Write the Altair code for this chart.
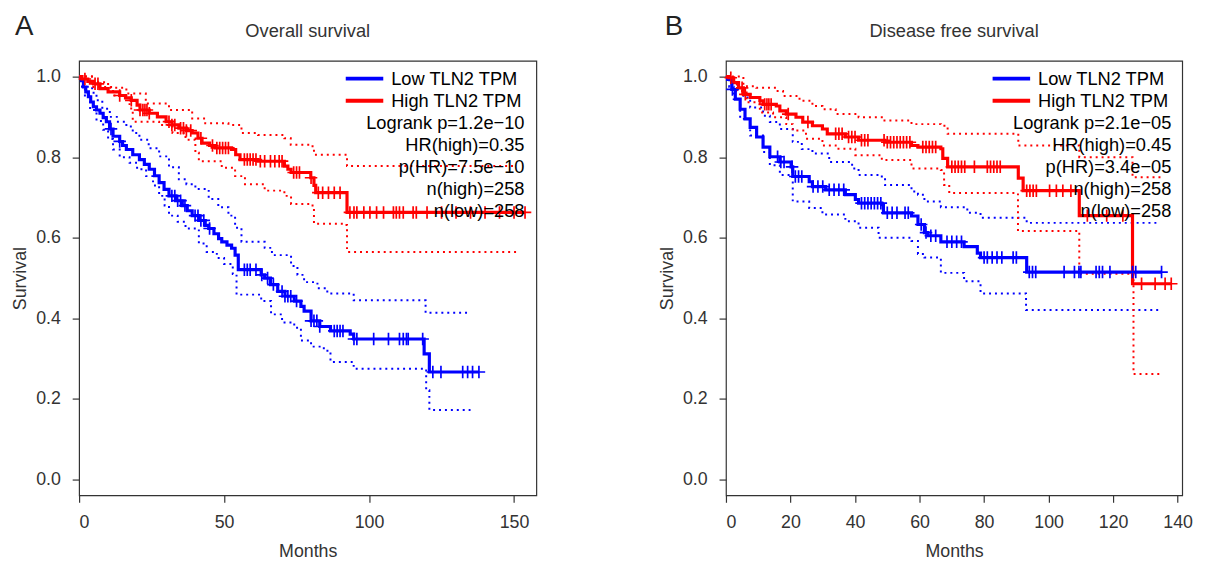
import altair as alt
import pandas as pd

# ---------------- data ----------------
# Panel A: Overall survival
A_high_t = [0, 1, 3, 5, 7.2, 10, 14, 16, 18, 20, 21, 24.2, 27, 30, 32, 34.4, 37, 39, 41, 42.4,
            45, 47, 52.6, 54, 55.5, 61.7, 70.8, 72, 73.1, 79.9, 81, 81.6, 92.4, 153.8]
A_high_s = [1.0, 0.994, 0.988, 0.982, 0.97, 0.962, 0.953, 0.947, 0.941, 0.929, 0.917, 0.909, 0.9, 0.888,
            0.88, 0.872, 0.866, 0.86, 0.847, 0.835, 0.829, 0.823, 0.819, 0.806, 0.794, 0.79, 0.778, 0.77,
            0.762, 0.749, 0.73, 0.712, 0.663, 0.663]
A_high_up_t = [0, 4.9, 10, 16.3, 23, 31, 39, 43.5, 51.5, 56, 61.7, 70.8, 73, 80, 81, 92.4, 151]
A_high_up_s = [1.0, 0.986, 0.972, 0.958, 0.933, 0.917, 0.896, 0.884, 0.88, 0.86, 0.855, 0.847, 0.831,
               0.827, 0.806, 0.778, 0.778]
A_high_lo_t = [0, 4.9, 11.7, 17.4, 18.5, 27.6, 32.2, 36.7, 40.1, 41.3, 49.2, 53.8, 57.2, 64, 70.8,
               73.1, 79.9, 81, 91.3, 92.4, 151.4]
A_high_lo_s = [1.0, 0.974, 0.953, 0.921, 0.888, 0.88, 0.86, 0.843, 0.811, 0.79, 0.774, 0.753, 0.733,
               0.717, 0.704, 0.684, 0.68, 0.635, 0.632, 0.565, 0.565]
A_low_t = [0, 0.8, 1.5, 2.3, 3.2, 4, 4.9, 6, 7.2, 8.3, 9.4, 10.5, 11.7, 14, 15, 16.3, 18.5, 20.8, 22.5,
           24.2, 26, 27.6, 29.3, 31, 33.3, 35.6, 37.3, 39, 41.3, 43.5, 44.7, 46.5, 48.1, 49.2, 51, 52.6,
           53.8, 54.9, 62.8, 64, 66, 68.5, 71, 74.2, 76.5, 77.6, 80, 83, 86.7, 93.5, 94.7, 119, 120.8, 137.9]
A_low_s = [1.0, 0.99, 0.974, 0.962, 0.95, 0.937, 0.925, 0.917, 0.909, 0.898, 0.888, 0.87, 0.852, 0.839,
           0.829, 0.819, 0.806, 0.794, 0.782, 0.77, 0.754, 0.737, 0.72, 0.704, 0.692, 0.68, 0.667, 0.655,
           0.643, 0.631, 0.623, 0.61, 0.598, 0.59, 0.582, 0.574, 0.557, 0.521, 0.508, 0.5, 0.484, 0.467,
           0.455, 0.443, 0.43, 0.418, 0.394, 0.38, 0.369, 0.361, 0.349, 0.312, 0.267, 0.267]
A_low_up_t = [0, 1.5, 3, 4.5, 6, 8, 10.6, 13, 16.3, 18.5, 20.8, 24, 27.6, 31, 34.4, 37, 40.1, 44.7, 48,
              51.5, 53.8, 56, 64, 66.5, 73.1, 75.3, 77.6, 82.2, 85.6, 94.7, 119.5, 135]
A_low_up_s = [1.0, 0.99, 0.975, 0.96, 0.941, 0.92, 0.9, 0.888, 0.876, 0.86, 0.843, 0.822, 0.802, 0.775,
              0.745, 0.733, 0.721, 0.696, 0.676, 0.655, 0.625, 0.59, 0.575, 0.557, 0.53, 0.508, 0.49,
              0.475, 0.462, 0.445, 0.414, 0.414]
A_low_lo_t = [0, 1, 2, 3.8, 6, 8.3, 10, 11.7, 14, 17.4, 20, 23.1, 25.5, 27.6, 29.5, 31, 34, 36.7, 41.3,
              44, 47.5, 50, 53, 54.3, 62.8, 66.2, 70, 74.2, 76.5, 80, 84.4, 86.7, 94.7, 119.7, 120.8, 135]
A_low_lo_s = [1.0, 0.975, 0.95, 0.917, 0.89, 0.868, 0.845, 0.819, 0.8, 0.786, 0.77, 0.753, 0.73, 0.704,
              0.68, 0.655, 0.64, 0.623, 0.586, 0.565, 0.55, 0.535, 0.51, 0.459, 0.443, 0.41, 0.39, 0.377,
              0.345, 0.33, 0.32, 0.292, 0.275, 0.222, 0.173, 0.173]
A_high_cens = [2, 5.5, 6.5, 14, 18, 21, 22, 22.7, 23.4, 24.2, 31, 32, 33, 35, 36, 37, 38.5, 42, 46, 47.5,
               48.5, 49.5, 50.5, 51.5, 57, 58, 59, 60, 61, 62.5, 64, 66, 67.5, 69, 70, 74, 75, 76, 80,
               82.5, 84, 86, 88, 90, 93.4, 94.8, 95.8, 98.2, 100.3, 102.6, 105, 108.4, 109.4, 110.5,
               111.8, 115.2, 116.3, 120, 125, 130, 135, 140, 145, 150, 153.8]
A_low_cens = [11, 14, 32, 33, 34, 35, 36.5, 40, 41, 42, 43, 45, 57, 58, 59, 61, 63, 65, 67, 70, 71, 72,
              73, 75, 80, 81, 82, 83, 88, 89, 90, 91, 94.8, 95.8, 101.6, 106.7, 110.5, 111.8, 112.9,
              113.5, 118.5, 122, 124.8, 132.3, 134, 135.7, 137.9]
A_stats = ["Logrank p=1.2e\u221210", "HR(high)=0.35", "p(HR)=7.5e\u221210", "n(high)=258", "n(low)=258"]

# Panel B: Disease free survival
B_high_t = [0, 0.8, 2.4, 3.9, 5.4, 7.5, 10.5, 11.5, 15.6, 16.7, 18.7, 21.7, 23.8, 26.8, 29.9, 31.4, 37,
            41.1, 49.3, 57.5, 59.5, 66.6, 67.2, 68.7, 90.6, 92.1, 109.5, 126, 138]
B_high_s = [1.0, 0.997, 0.985, 0.972, 0.956, 0.948, 0.94, 0.931, 0.927, 0.915, 0.907, 0.899, 0.887,
            0.878, 0.87, 0.858, 0.85, 0.842, 0.837, 0.829, 0.825, 0.821, 0.797, 0.776, 0.748, 0.717,
            0.655, 0.486, 0.486]
B_high_up_t = [0, 5.4, 9.4, 15.6, 17.7, 22.8, 26.8, 29.9, 34, 41.1, 48.3, 57.5, 66.6, 68.7, 90.6, 109.5,
               126, 135]
B_high_up_s = [1.0, 0.976, 0.972, 0.964, 0.952, 0.94, 0.927, 0.919, 0.907, 0.899, 0.891, 0.882, 0.878,
               0.858, 0.829, 0.80, 0.75, 0.75]
B_high_lo_t = [0, 1.5, 3.4, 6.4, 10.5, 14.6, 18.7, 20.7, 24.8, 29.9, 34, 40.1, 48.3, 57.5, 66.6, 67.6,
               69.2, 90.5, 109.5, 126.3, 135]
B_high_lo_s = [1.0, 0.985, 0.964, 0.936, 0.911, 0.899, 0.882, 0.866, 0.846, 0.829, 0.821, 0.805, 0.793,
               0.772, 0.768, 0.731, 0.711, 0.617, 0.511, 0.262, 0.262]
B_low_t = [0, 0.5, 1.8, 2.9, 4.4, 5.9, 7.5, 9.5, 11.5, 13.6, 16.7, 20.2, 20.7, 25.8, 26.8, 30.9, 37,
           40.1, 41.1, 48.3, 48.8, 57.5, 59.5, 61.5, 62.6, 66.6, 73.8, 77.9, 78.9, 93.2, 135]
B_low_s = [1.0, 0.993, 0.968, 0.944, 0.919, 0.895, 0.874, 0.85, 0.825, 0.801, 0.788, 0.776, 0.752,
           0.739, 0.727, 0.719, 0.707, 0.695, 0.686, 0.682, 0.662, 0.654, 0.633, 0.613, 0.605, 0.59,
           0.578, 0.562, 0.551, 0.515, 0.515]
B_low_up_t = [0, 1.5, 3.4, 5.4, 7.5, 11.5, 13.6, 16.7, 20.7, 23.5, 26.8, 32, 39.1, 41.1, 48.3, 49.3,
              57.5, 59.5, 61.5, 66.6, 74.8, 78.9, 93.2, 134]
B_low_up_s = [1.0, 0.985, 0.968, 0.948, 0.923, 0.903, 0.887, 0.87, 0.838, 0.82, 0.809, 0.788, 0.772,
              0.756, 0.748, 0.731, 0.715, 0.707, 0.69, 0.676, 0.662, 0.65, 0.637, 0.637]
B_low_lo_t = [0, 1, 2.4, 4.4, 7.5, 11.5, 13.6, 16.7, 20.7, 25.8, 29.9, 37, 41.1, 47.3, 57.5, 59.5, 61.5,
              66.6, 73.8, 78.9, 93, 134]
B_low_lo_s = [1.0, 0.975, 0.944, 0.895, 0.854, 0.813, 0.78, 0.756, 0.69, 0.674, 0.658, 0.641, 0.625,
              0.6, 0.592, 0.56, 0.551, 0.513, 0.492, 0.462, 0.421, 0.421]
B_high_cens = [1.5, 5, 6, 12, 12.7, 13.3, 14, 19.3, 25.4, 34, 35, 36, 38, 39, 40, 42, 43, 44, 49, 50, 51,
               52, 53, 54, 55, 56, 57, 61, 62, 63, 64, 65, 70, 71, 72, 73, 74, 77, 81, 82, 83, 84, 85,
               93.2, 94.2, 95.2, 96.2, 100.3, 102.4, 104.4, 106.9, 112, 118, 123, 128.8, 133, 136.1, 138]
B_low_cens = [2, 16, 17, 18, 20.5, 21.5, 22.5, 23.5, 27, 28.5, 30, 32, 33.5, 35, 36.5, 42, 43, 44, 45,
              46, 47, 48, 50, 51.5, 53, 55.5, 56.5, 60.5, 62, 63.5, 65, 68.5, 70, 71.5, 73, 80, 81, 82.5,
              84, 85.5, 89, 90, 94, 95, 96, 104.8, 108, 109.4, 110, 114.7, 115.7, 116.7, 119, 126, 127, 135]
B_stats = ["Logrank p=2.1e\u221205", "HR(high)=0.45", "p(HR)=3.4e\u221205", "n(high)=258", "n(low)=258"]

legend_labels = ["Low TLN2 TPM", "High TLN2 TPM"]
groups = ["Low", "High"]
y_ticks = [0.0, 0.2, 0.4, 0.6, 0.8, 1.0]

# ---------------- style / layout ----------------
FONT = "Liberation Sans"
BLUE, RED = "#0000FF", "#FF0000"
H = 440
YDOM = [-0.039, 1.039]
color_scale = alt.Scale(domain=groups, range=[BLUE, RED])


def step_value(ts, ss, t):
    v = ss[0]
    for ti, si in zip(ts, ss):
        if ti <= t:
            v = si
        else:
            break
    return v


def axis(values, title, pad, fmt):
    return alt.Axis(values=values, title=title, titlePadding=pad, format=fmt, domain=False,
                    grid=False, ticks=True, tickSize=7, tickColor="#333", tickWidth=1.2,
                    labelFont=FONT, labelFontSize=18, labelColor="#333", labelPadding=12,
                    titleFont=FONT, titleFontSize=18, titleFontWeight="normal", titleColor="#333")


def panel(letter, title, xmax, xticks, width, curves, censors, stats, letter_dx):
    rows = []
    for (grp, kind), (ts, ss) in curves.items():
        for t, s in zip(ts, ss):
            rows.append(dict(grp=grp, kind=kind, cid=grp + "-" + kind, t=t, s=s))
    df = pd.DataFrame(rows)
    crows = []
    for grp, times in censors.items():
        ts, ss = curves[(grp, "main")]
        for t in times:
            crows.append(dict(grp=grp, t=t, s=step_value(ts, ss, t)))
    cdf = pd.DataFrame(crows)

    xs = alt.Scale(domain=[0, xmax], nice=False, zero=False)
    ys = alt.Scale(domain=YDOM, nice=False, zero=False)
    xax = axis(xticks, "Months", 11, "d")
    yax = axis(y_ticks, "Survival", 6, ".1f")

    base = alt.Chart(df)
    ci = base.transform_filter(alt.datum.kind != "main").mark_line(
        interpolate="step-after", strokeWidth=2, strokeDash=[2, 4]
    ).encode(
        x=alt.X("t:Q", scale=xs, axis=xax),
        y=alt.Y("s:Q", scale=ys, axis=yax),
        color=alt.Color("grp:N", scale=color_scale, legend=None),
        detail="cid:N",
    )
    main = base.transform_filter(alt.datum.kind == "main").mark_line(
        interpolate="step-after", strokeWidth=3.2
    ).encode(
        x=alt.X("t:Q", scale=xs),
        y=alt.Y("s:Q", scale=ys),
        color=alt.Color("grp:N", scale=color_scale, legend=None),
        detail="cid:N",
    )
    cens = alt.Chart(cdf).mark_point(
        shape="M-1,0H1M0,-1V1", filled=False, size=160, strokeWidth=1.7, opacity=1
    ).encode(
        x=alt.X("t:Q", scale=xs),
        y=alt.Y("s:Q", scale=ys),
        color=alt.Color("grp:N", scale=color_scale, legend=None),
    )

    # legend block (text inside the plot, R style)
    row_y = [18 + 22.4 * i for i in range(7)]
    ldf = pd.DataFrame({"label": legend_labels, "grp": groups, "py": row_y[:2]})
    leg_lines = alt.Chart(ldf).mark_rule(strokeWidth=4).encode(
        x=alt.value(270), x2=alt.value(308),
        y=alt.Y("py:Q", scale=None),
        color=alt.Color("grp:N", scale=color_scale, legend=None),
    )
    leg_text = alt.Chart(ldf).mark_text(
        align="left", baseline="middle", font=FONT, fontSize=18.5, color="#000"
    ).encode(x=alt.value(316), y=alt.Y("py:Q", scale=None), text="label:N")
    sdf = pd.DataFrame({"label": stats, "py": row_y[2:]})
    stat_text = alt.Chart(sdf).mark_text(
        align="right", baseline="middle", font=FONT, fontSize=18.5, color="#000"
    ).encode(x=alt.value(451), y=alt.Y("py:Q", scale=None), text="label:N")

    letter_mark = alt.Chart(pd.DataFrame({"l": [letter]})).mark_text(
        align="left", baseline="alphabetic", font=FONT, fontSize=28, color="#222"
    ).encode(x=alt.value(letter_dx), y=alt.value(-26), text="l:N")
    title_mark = alt.Chart(pd.DataFrame({"l": [title]})).mark_text(
        align="center", baseline="alphabetic", font=FONT, fontSize=18.5, color="#333"
    ).encode(x=alt.value(width / 2), y=alt.value(-24), text="l:N")

    return alt.layer(ci, main, cens, leg_lines, leg_text, stat_text, letter_mark, title_mark).properties(
        width=width, height=H,
    )


pA = panel("A", "Overall survival", 157.7, [0, 50, 100, 150], 463,
           {("Low", "main"): (A_low_t, A_low_s), ("High", "main"): (A_high_t, A_high_s),
            ("Low", "up"): (A_low_up_t, A_low_up_s), ("Low", "lo"): (A_low_lo_t, A_low_lo_s),
            ("High", "up"): (A_high_up_t, A_high_up_s), ("High", "lo"): (A_high_lo_t, A_high_lo_s)},
           {"Low": A_low_cens, "High": A_high_cens}, A_stats, -65)
pB = panel("B", "Disease free survival", 141.4, [0, 20, 40, 60, 80, 100, 120, 140], 462,
           {("Low", "main"): (B_low_t, B_low_s), ("High", "main"): (B_high_t, B_high_s),
            ("Low", "up"): (B_low_up_t, B_low_up_s), ("Low", "lo"): (B_low_lo_t, B_low_lo_s),
            ("High", "up"): (B_high_up_t, B_high_up_s), ("High", "lo"): (B_high_lo_t, B_high_lo_s)},
           {"Low": B_low_cens, "High": B_high_cens}, B_stats, -62)

chart = alt.hconcat(pA, pB, spacing=122).properties(
    padding={"left": 3, "top": 1, "right": 5, "bottom": 0}
).configure_view(
    stroke="#333", strokeWidth=1.2
)

chart.save("out.html", embed_options={"renderer": "svg", "actions": False})
